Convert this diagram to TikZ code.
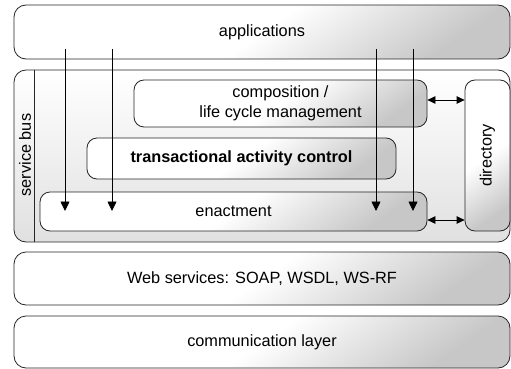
\documentclass[tikz,border=0pt]{standalone}
\usepackage{fontspec}
\setmainfont{Liberation Sans}
\usetikzlibrary{arrows.meta,calc}
\begin{document}
\begin{tikzpicture}[x=1pt,y=-1pt,
  layer/.style={draw=black!85,line width=0.8pt,rounded corners=12pt,inner sep=0pt,
    top color=white,bottom color=black!22,middle color=white,shading angle=35,
    font=\fontsize{16.3}{19.5}\selectfont,align=center},
  inbox/.style={layer,rounded corners=10pt},
  conn/.style={line width=0.8pt,-{Triangle[length=9.5pt,width=9pt]}},
  dconn/.style={line width=0.8pt,{Triangle[length=8pt,width=7.5pt]}-{Triangle[length=8pt,width=7.5pt]}},
  lbl/.style={font=\fontsize{16.3}{19.5}\selectfont,inner sep=0pt}]
\useasboundingbox (0,0) rectangle (511,369);
\node[layer,minimum width=496pt,minimum height=54pt] (app) at (262,32) {applications};
\node[layer,minimum width=496pt,minimum height=172pt,middle color=white,bottom color=black!12] (sbus) at (262,156) {};
\draw[line width=0.8pt,black!85] ([xshift=21pt]sbus.north west) -- ([xshift=21pt]sbus.south west);
\node[lbl,rotate=90] (sblbl) at (25,155) {service bus};
\node[inbox,minimum width=293pt,minimum height=47pt] (comp) at (280.5,103.5) {composition /\\life cycle management};
\node[inbox,minimum width=309pt,minimum height=41pt,font=\fontsize{16.3}{19.5}\selectfont\bfseries] (trans) at (241.5,158.5) {transactional activity control};
\node[inbox,minimum width=387pt,minimum height=39pt] (enact) at (233.5,211.5) {enactment};
\node[inbox,minimum width=45pt,minimum height=151pt] (dir) at (487.5,155.5) {};
\node[lbl,rotate=90] (dirlbl) at (487.5,155.5) {directory};
\node[layer,minimum width=496pt,minimum height=53pt] (ws) at (262,278.5) {Web services: SOAP, WSDL, WS-RF};
\node[layer,minimum width=496pt,minimum height=52pt] (comm) at (262,342) {communication layer};
% down arrows
\foreach \i/\xx in {1/65,2/112,3/376,4/413}{
  \coordinate (s\i) at (\xx,49);
  \coordinate (e\i) at (\xx,211);
  \draw[conn] (s\i) -- (e\i);
}
% directory links
\coordinate (c1) at ([yshift=3.5pt]comp.east);
\coordinate (c2) at ([yshift=-8.5pt]enact.east);
\draw[dconn] (c1) -- (c1 -| dir.west);
\draw[dconn] (c2) -- (c2 -| dir.west);
\end{tikzpicture}
\end{document}
